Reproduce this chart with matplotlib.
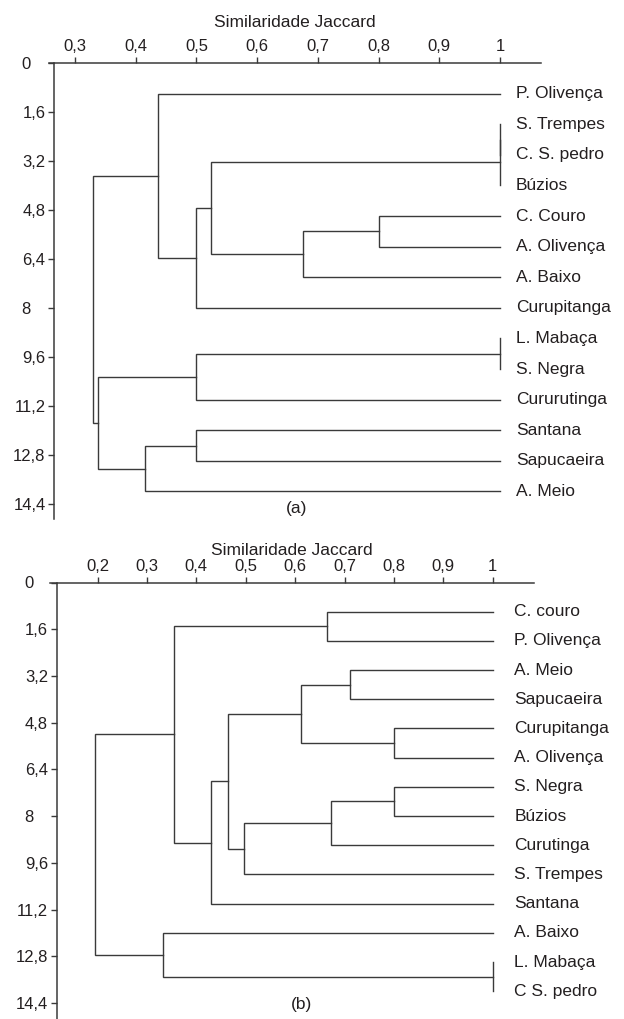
import matplotlib
matplotlib.use("Agg")
import matplotlib.pyplot as plt

plt.rcParams['font.family'] = ['Liberation Sans', 'DejaVu Sans']

W, H = 624, 1019
LINE = '#3a3a3a'
TXT = '#231f20'

# ---------------- data ----------------
ytick_vals = [0, 1.6, 3.2, 4.8, 6.4, 8, 9.6, 11.2, 12.8, 14.4]
ytick_labels = ["0   ", "1,6", "3,2", "4,8", "6,4", "8   ", "9,6", "11,2", "12,8", "14,4"]

xticks_a = [0.3, 0.4, 0.5, 0.6, 0.7, 0.8, 0.9, 1.0]
xtick_labels_a = ["0,3", "0,4", "0,5", "0,6", "0,7", "0,8", "0,9", "1"]
xticks_b = [0.2, 0.3, 0.4, 0.5, 0.6, 0.7, 0.8, 0.9, 1.0]
xtick_labels_b = ["0,2", "0,3", "0,4", "0,5", "0,6", "0,7", "0,8", "0,9", "1"]

leaves_a = ["P. Olivença", "S. Trempes", "C. S. pedro", "Búzios", "C. Couro",
            "A. Olivença", "A. Baixo", "Curupitanga", "L. Mabaça", "S. Negra",
            "Cururutinga", "Santana", "Sapucaeira", "A. Meio"]
# (child 1, child 2, similarity); ints refer to earlier merges
merges_a = [
    ("S. Trempes", "C. S. pedro", 1.0),
    (0, "Búzios", 1.0),
    ("C. Couro", "A. Olivença", 0.80),
    (2, "A. Baixo", 0.675),
    (1, 3, 0.524),
    (4, "Curupitanga", 0.50),
    ("P. Olivença", 5, 0.436),
    ("L. Mabaça", "S. Negra", 1.0),
    (7, "Cururutinga", 0.50),
    ("Santana", "Sapucaeira", 0.50),
    (9, "A. Meio", 0.416),
    (8, 10, 0.338),
    (6, 11, 0.330),
]

leaves_b = ["C. couro", "P. Olivença", "A. Meio", "Sapucaeira", "Curupitanga",
            "A. Olivença", "S. Negra", "Búzios", "Curutinga", "S. Trempes",
            "Santana", "A. Baixo", "L. Mabaça", "C S. pedro"]
merges_b = [
    ("C. couro", "P. Olivença", 0.665),
    ("A. Meio", "Sapucaeira", 0.711),
    ("Curupitanga", "A. Olivença", 0.80),
    (1, 2, 0.611),
    ("S. Negra", "Búzios", 0.80),
    (4, "Curutinga", 0.673),
    (5, "S. Trempes", 0.497),
    (3, 6, 0.465),
    (7, "Santana", 0.430),
    (0, 8, 0.354),
    ("L. Mabaça", "C S. pedro", 1.0),
    ("A. Baixo", 10, 0.333),
    (9, 11, 0.1955),
]


def add_axes_px(fig, x0, x1, y0, y1):
    return fig.add_axes([x0 / W, 1 - y1 / H, (x1 - x0) / W, (y1 - y0) / H])


def draw_dendro(ax, leaves, merges, label_offset):
    pos = {name: (1.0, i + 1) for i, name in enumerate(leaves)}
    nodes = []

    def get(c):
        return nodes[c] if isinstance(c, int) else pos[c]

    for a, b, h in merges:
        xa, ya = get(a)
        xb, yb = get(b)
        ax.plot([xa, h, h, xb], [ya, ya, yb, yb], color=LINE, lw=1.0,
                solid_joinstyle='miter', clip_on=False)
        nodes.append((h, (ya + yb) / 2))
    for name, (x, y) in pos.items():
        ax.annotate(name, (1.0, y), xytext=(label_offset, 0),
                    textcoords='offset points', ha='left', va='center',
                    fontsize=12.5, color=TXT, annotation_clip=False)


def style_axes(ax, xlim, ylim_bottom, spine_x, xticks, xlabels, labelpad):
    ax.set_xlim(*xlim)
    ax.set_ylim(ylim_bottom, 0)
    for s in ['bottom', 'right']:
        ax.spines[s].set_visible(False)
    ax.spines['left'].set_position(('data', spine_x))
    ax.spines['left'].set_color(LINE)
    ax.spines['top'].set_color(LINE)
    ax.spines['left'].set_linewidth(1.1)
    ax.spines['top'].set_linewidth(1.1)
    ax.patch.set_visible(False)
    ax.xaxis.set_ticks_position('top')
    ax.xaxis.set_label_position('top')
    ax.set_xticks(xticks)
    ax.set_xticklabels(xlabels)
    ax.set_yticks(ytick_vals)
    ax.set_yticklabels(ytick_labels)
    ax.tick_params(axis='both', direction='out', length=4.3, width=1.0,
                   color=LINE, labelsize=12, labelcolor=TXT, pad=2)
    ax.set_xlabel('Similaridade Jaccard', fontsize=12.5, color=TXT, labelpad=labelpad)


fig = plt.figure(figsize=(W / 100, H / 100), dpi=100)
fig.patch.set_facecolor('white')

# panel (a)
ax1 = add_axes_px(fig, 48.8, 540.8, 63, 519)
style_axes(ax1, (0.257, 1.067), 14.9, 0.266, xticks_a, xtick_labels_a, 9.0)
draw_dendro(ax1, leaves_a, merges_a, 11.5)
fig.text(297 / W, 1 - 508 / H, '(a)', ha='center', va='center', fontsize=12.5, color=TXT)

# panel (b)
ax2 = add_axes_px(fig, 50, 534, 582.5, 1019)
style_axes(ax2, (0.1038, 1.0836), 14.95, 0.1174, xticks_b, xtick_labels_b, 2.8)
draw_dendro(ax2, leaves_b, merges_b, 15.5)
fig.text(302 / W, 1 - 1005 / H, '(b)', ha='center', va='center', fontsize=12.5, color=TXT)

fig.savefig('out.png', dpi=100, facecolor='white')
